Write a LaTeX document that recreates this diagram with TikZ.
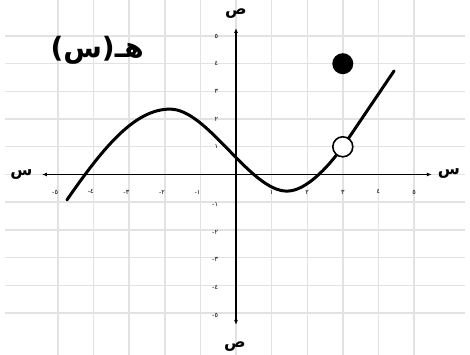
\documentclass[tikz,border=0pt]{standalone}
\usepackage{fontspec}
\usetikzlibrary{arrows.meta}
\TeXXeTstate=1
\newfontfamily\arabicfont[Script=Arabic]{DejaVu Sans}
\newfontfamily\parenfont{DejaVu Sans}
\definecolor{GridGray}{HTML}{E2E2E2}

\begin{document}
\begin{tikzpicture}[
  x=35.6pt,y=27.7pt,
  gridline/.style={draw=GridGray,line width=1.4pt},
  axis/.style={{Latex[length=5pt,width=4pt]}-{Latex[length=5pt,width=4pt]},line width=1.3pt},
  curve/.style={line width=3pt,line cap=round},
  tick/.style={font=\arabicfont\fontsize{6.5}{6.5}\selectfont,inner sep=0pt},
  axlabel/.style={font=\arabicfont\bfseries\fontsize{16}{16}\selectfont,inner sep=0pt},
  dot/.style={circle,fill=black,minimum size=21pt,inner sep=0pt},
  hole/.style={circle,draw=black,line width=1.6pt,fill=white,minimum size=20pt,inner sep=0pt}
]
\useasboundingbox (-236pt,-180.5pt) rectangle (234pt,174.5pt);
\foreach \i in {-5,...,5} {
  \draw[gridline] (\i,6.3) -- (\i,-6.52);
  \draw[gridline] (-6.49,\i) -- (6.43,\i);
}
\coordinate (xleft) at (-5.45,0);
\coordinate (xright) at (5.5,0);
\coordinate (ytop) at (0,5.29);
\coordinate (ybottom) at (0,-5.43);
\draw[axis] (xleft) -- (xright);
\draw[axis] (ybottom) -- (ytop);
\node[axlabel] (xl) at (-6.03,0) {س};
\node[axlabel] (xr) at (5.98,0.05) {س};
\node[axlabel] (yt) at (0,5.8) {ص};
\node[axlabel] (yb) at (-0.03,-6.2) {ص};
\foreach \k/\d in {1/١,2/٢,3/٣,4/٤,5/٥} {
  \node[tick] (xp\k) at (\k,-0.63) {\d};
  \node[tick] (xn\k) at (-\k-0.08,-0.63) {\d-};
  \node[tick,anchor=east] (yp\k) at (-0.5,\k) {\d};
  \node[tick,anchor=east] (yn\k) at (-0.5,-\k-0.08) {\d-};
}
\draw[curve] (-4.75,-0.92) .. controls (-3.65,1.13) and (-2.8,2.36) .. (-1.85,2.36)
  .. controls (-0.8,2.36) and (0.4,-0.6) .. (1.43,-0.6)
  .. controls (1.95,-0.6) and (2.55,0.21) .. (3,1) -- (4.44,3.74);
\node[hole] (open) at (3,1) {};
\node[dot] (closed) at (3,4) {};
\node[font=\bfseries\fontsize{28}{28}\selectfont,inner sep=0pt] (fname) at (-3.9,4.49)
  {{\parenfont(}{\arabicfont س}{\parenfont)}{\arabicfont هـ}};
\end{tikzpicture}
\end{document}
